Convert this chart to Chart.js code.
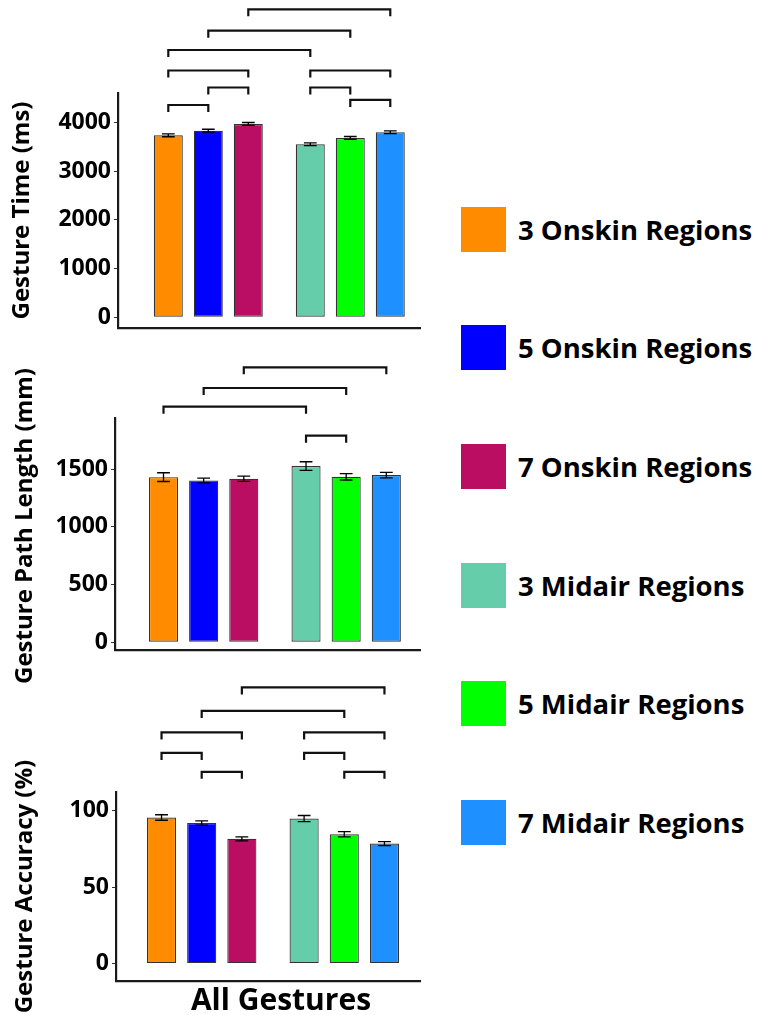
<!DOCTYPE html>
<html>
<head>
<meta charset="utf-8">
<title>Gesture results</title>
<script src="https://cdn.jsdelivr.net/npm/chart.js@4.4.0/dist/chart.umd.min.js"></script>
<style>
  html, body { margin: 0; padding: 0; background: #fff; }
  body { width: 763px; height: 1015px; position: relative; overflow: hidden; font-family: "Open Sans", sans-serif; }
  .panel { position: absolute; left: 0; width: 440px; }
  #legend { position: absolute; left: 461px; top: 0; }
  .item { position: absolute; left: 0; display: flex; align-items: center; white-space: pre;
          font-weight: bold; font-size: 27.5px; color: #000; }
  .swatch { width: 45px; height: 45px; margin-right: 12px; flex: none; }
</style>
</head>
<body>
<div class="panel" style="top:0;height:345px"><canvas id="timeChart"></canvas></div>
<div class="panel" style="top:340px;height:360px"><canvas id="pathChart"></canvas></div>
<div class="panel" style="top:660px;height:355px"><canvas id="accChart"></canvas></div>
<div id="legend"></div>

<script>
// conditions in legend order (first three = Onskin, last three = Midair)
const conditions = ["3 Onskin Regions", "5 Onskin Regions", "7 Onskin Regions",
                    "3 Midair Regions", "5 Midair Regions", "7 Midair Regions"];
const barColors = ["#FF8C00", "#0000FF", "#B90E62", "#66CDAA", "#00FF00", "#1E90FF"];
const groups = ["Onskin", "Midair"];

// Gesture Time (ms)
const timeMeans = [3733, 3826, 3965, 3549, 3678, 3795];
const timeErrors = [30, 30, 30, 30, 30, 30];
const timeTicks = [0, 1000, 2000, 3000, 4000];
const timePairs = [[0, 1], [4, 5], [1, 2], [3, 4], [0, 2], [3, 5], [0, 3], [1, 4], [2, 5]];
const timeBracketY = [4354, 4457, 4713, 4713, 5062, 5062, 5482, 5878, 6317];

// Gesture Path Length (mm)
const pathMeans = [1430, 1401, 1416, 1526, 1433, 1448];
const pathErrors = [38, 20, 23, 37, 28, 24];
const pathTicks = [0, 500, 1000, 1500];
const pathPairs = [[3, 4], [0, 3], [1, 4], [2, 5]];
const pathBracketY = [1789, 2040, 2202, 2381];

// Gesture Accuracy (%)
const accMeans = [95.7, 92.1, 81.7, 95.0, 84.7, 78.6];
const accErrors = [1.8, 1.4, 1.3, 2.0, 1.7, 1.3];
const accTicks = [0, 50, 100];
const accPairs = [[1, 2], [4, 5], [0, 1], [3, 4], [0, 2], [3, 5], [1, 4], [2, 5]];
const accBracketY = [125.6, 125.6, 138.0, 138.0, 151.4, 151.4, 165.5, 180.9];

const FONT = "'Open Sans', sans-serif";

// error bars, significance brackets and axis titles
function decorPlugin(p) {
  return {
    id: "decor",
    afterDatasetsDraw(chart) {
      const ctx = chart.ctx;
      const y = chart.scales.y;
      const barAt = (k) => chart.getDatasetMeta(k % 3).data[Math.floor(k / 3)];
      ctx.save();
      ctx.strokeStyle = "#000";
      ctx.lineWidth = 1.3;
      p.means.forEach((m, k) => {
        const bar = barAt(k);
        const half = bar.width * 0.22;
        const top = y.getPixelForValue(m + p.errors[k]);
        const bot = y.getPixelForValue(m - p.errors[k]);
        ctx.beginPath();
        ctx.moveTo(bar.x, top); ctx.lineTo(bar.x, bot);
        ctx.moveTo(bar.x - half, top); ctx.lineTo(bar.x + half, top);
        ctx.moveTo(bar.x - half, bot); ctx.lineTo(bar.x + half, bot);
        ctx.stroke();
      });
      ctx.lineWidth = 2.2;
      ctx.strokeStyle = "#111";
      p.pairs.forEach(([a, b], i) => {
        const yy = y.getPixelForValue(p.bracketY[i]);
        const x1 = barAt(a).x, x2 = barAt(b).x;
        ctx.beginPath();
        ctx.moveTo(x1, yy + 7); ctx.lineTo(x1, yy); ctx.lineTo(x2, yy); ctx.lineTo(x2, yy + 7);
        ctx.stroke();
      });
      ctx.restore();
    },
    afterDraw(chart) {
      const ctx = chart.ctx;
      const area = chart.chartArea;
      ctx.save();
      ctx.fillStyle = "#000";
      ctx.textAlign = "center";
      ctx.textBaseline = "middle";
      ctx.font = "bold 24px " + FONT;
      ctx.translate(p.titleX, (area.top + area.bottom) / 2 + (p.titleShift || 0));
      ctx.rotate(-Math.PI / 2);
      ctx.fillText(p.yTitle, 0, 0);
      ctx.restore();
      if (p.xTitle) {
        ctx.save();
        ctx.fillStyle = "#000";
        ctx.textAlign = "center";
        ctx.textBaseline = "middle";
        ctx.font = "bold 30px " + FONT;
        ctx.fillText(p.xTitle, (area.left + area.right) / 2 + p.xTitleShift, area.bottom + p.xTitleGap);
        ctx.restore();
      }
    }
  };
}

function makePanel(id, p) {
  const datasets = [0, 1, 2].map((i) => ({
    label: conditions[i],
    data: groups.map((g, j) => ({ x: j, y: p.means[j * 3 + i] })),
    backgroundColor: [barColors[i], barColors[i + 3]],
    borderColor: "#333",
    borderWidth: 1.2,
    borderSkipped: false,
    categoryPercentage: 0.845,
    barPercentage: 0.725
  }));

  return new Chart(document.getElementById(id), {
    type: "bar",
    data: { datasets },
    options: {
      responsive: true,
      maintainAspectRatio: false,
      animation: false,
      layout: { padding: p.padding },
      plugins: { legend: { display: false }, tooltip: { enabled: false } },
      scales: {
        x: {
          type: "linear",
          min: p.xMin,
          max: p.xMax,
          offset: false,
          grid: { display: false, drawTicks: false },
          ticks: { display: false },
          border: { display: true, color: "#1a1a1a", width: 2.2 },
          afterBuildTicks: (s) => { s.ticks = groups.map((g, j) => ({ value: j })); },
          afterFit: (s) => { s.height = 0; }
        },
        y: {
          min: p.yMin,
          max: p.yMax,
          grid: { display: true, drawOnChartArea: false, drawTicks: true, tickLength: 4, color: "#333", lineWidth: 1 },
          border: { display: true, color: "#1a1a1a", width: 2.2 },
          ticks: {
            color: "#000",
            padding: 3,
            font: { family: FONT, size: 23, weight: "bold" },
            callback: (v) => String(v)
          },
          afterBuildTicks: (s) => { s.ticks = p.ticks.map((v) => ({ value: v })); },
          afterFit: (s) => { s.width = p.yWidth; }
        }
      }
    },
    plugins: [decorPlugin(p)]
  });
}

makePanel("timeChart", {
  means: timeMeans, errors: timeErrors, ticks: timeTicks, pairs: timePairs, bracketY: timeBracketY,
  yMin: -220, yMax: 4600, xMin: -0.636, xMax: 1.491, yWidth: 118,
  padding: { top: 93, bottom: 17, left: 0, right: 20 },
  yTitle: "Gesture Time (ms)", titleX: 22
});

makePanel("pathChart", {
  means: pathMeans, errors: pathErrors, ticks: pathTicks, pairs: pathPairs, bracketY: pathBracketY,
  yMin: -67, yMax: 1942, xMin: -0.622, xMax: 1.518, yWidth: 115,
  padding: { top: 78, bottom: 50, left: 0, right: 20 },
  yTitle: "Gesture Path Length (mm)", titleX: 25, titleShift: -8
});

makePanel("accChart", {
  means: accMeans, errors: accErrors, ticks: accTicks, pairs: accPairs, bracketY: accBracketY,
  yMin: -11.4, yMax: 112.4, xMin: -0.601, xMax: 1.531, yWidth: 116,
  padding: { top: 132, bottom: 34, left: 0, right: 20 },
  yTitle: "Gesture Accuracy (%)", titleX: 25,
  xTitle: "All Gestures", xTitleShift: 13, xTitleGap: 20
});

// legend on the right
const legend = document.getElementById("legend");
conditions.forEach((name, i) => {
  const item = document.createElement("div");
  item.className = "item";
  item.style.top = (229 + i * 118.7 - 22.5) + "px";
  const sw = document.createElement("div");
  sw.className = "swatch";
  sw.style.background = barColors[i];
  const label = document.createElement("span");
  label.textContent = name;
  item.appendChild(sw);
  item.appendChild(label);
  legend.appendChild(item);
});
</script>
</body>
</html>
